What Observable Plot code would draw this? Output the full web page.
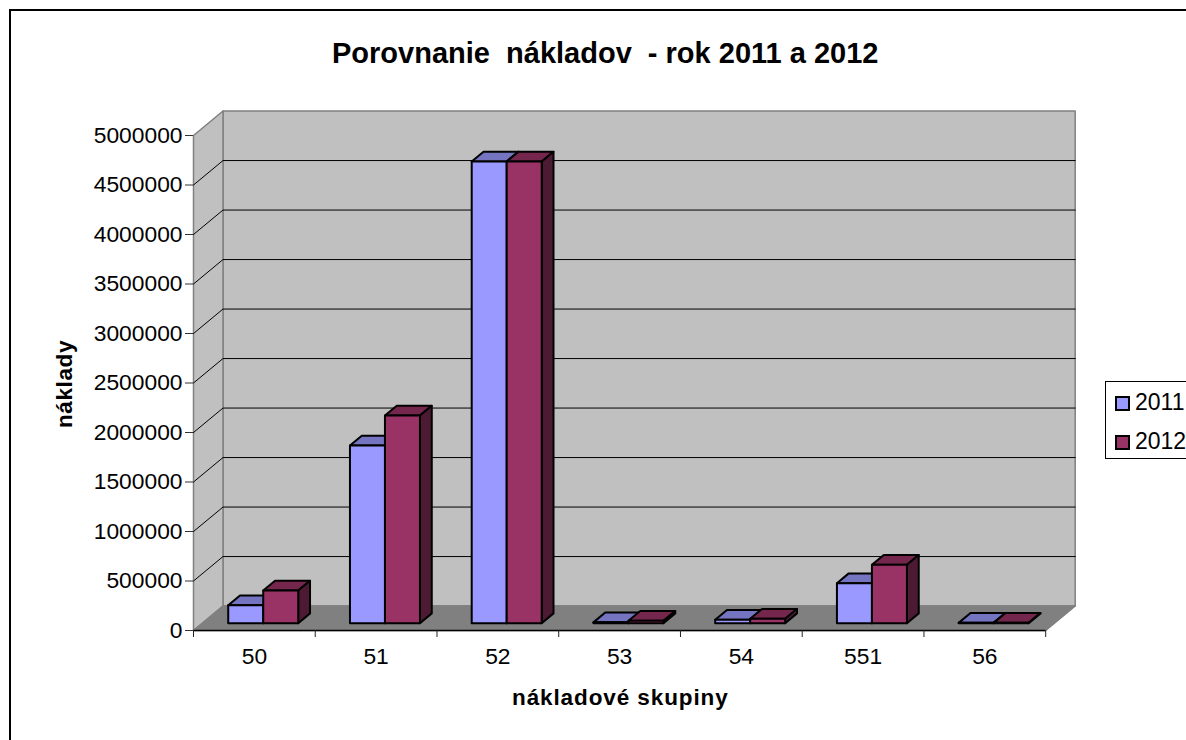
<!DOCTYPE html>
<html>
<head>
<meta charset="utf-8">
<script src="https://cdn.jsdelivr.net/npm/d3@7"></script>
<script src="https://cdn.jsdelivr.net/npm/@observablehq/plot@0.6"></script>
<style>
html,body{margin:0;padding:0;background:#fff;width:1186px;height:740px;overflow:hidden;font-family:"Liberation Sans",sans-serif;color:#000}
#chart{position:absolute;left:0;top:0}
#frame{position:absolute;left:9px;top:9px;width:1300px;height:900px;border:2px solid #000;pointer-events:none}
.t{position:absolute;white-space:pre;font-weight:bold;line-height:1}
#title{left:332px;top:39px;font-size:29px}
#xlabel{left:512px;top:687px;font-size:22.5px;letter-spacing:0.9px}
#ylabel{left:65px;top:384px;font-size:22.5px;letter-spacing:0.6px;transform:translate(-50%,-50%) rotate(-90deg)}
#legend{position:absolute;left:1105px;top:381px;width:120px;height:76px;border:1px solid #000;background:#fff}
.sw{position:absolute;left:9px;width:11px;height:11px;border:2px solid #000}
.lt{position:absolute;left:29px;font-size:23px;line-height:1}
</style>
</head>
<body>
<div id="chart"></div>
<div id="frame"></div>
<div class="t" id="title"></div>
<div class="t" id="xlabel"></div>
<div class="t" id="ylabel"></div>
<div id="legend"></div>
<script>
const chartTitle = "Porovnanie  nákladov  - rok 2011 a 2012";
const xTitle = "nákladové skupiny";
const yTitle = "náklady";
const categories = ["50","51","52","53","54","551","56"];
const seriesNames = ["2011","2012"];
const values2011 = [181000,1794000,4664000,8000,35000,404000,3000];
const values2012 = [330000,2097000,4664000,25000,45000,590000,3000];
const yTicks = [0,500000,1000000,1500000,2000000,2500000,3000000,3500000,4000000,4500000,5000000];
const frontColors = ["#9999FF","#993366"];
const topColors = ["#7474C1","#74264D"];
const sideColors = ["#4D4D80","#4D1A33"];
const wallColor = "#C0C0C0";
const floorColor = "#808080";

// Oblique depth of the plot box, expressed in data units of both scales.
const depthX = 0.2423, depthY = 247000;
const n = categories.length, yMax = 5000000;
const P = (x, y, d) => ({x: x + depthX * d, y: y + depthY * d});

function face(list, id, fill, pts) {
  pts.concat([pts[0]]).forEach(p => list.push({id, fill, x: p.x, y: p.y}));
}

const walls = [];
face(walls, "back", wallColor, [P(0,0,1),P(n,0,1),P(n,yMax,1),P(0,yMax,1)]);
face(walls, "left", wallColor, [P(0,0,0),P(0,0,1),P(0,yMax,1),P(0,yMax,0)]);
face(walls, "floor", floorColor, [P(0,0,0),P(n,0,0),P(n,0,1),P(0,0,1)]);

const grid = [];
yTicks.slice(1, -1).forEach(v => {
  [P(0,v,0),P(0,v,1),P(n,v,1)].forEach(p => grid.push({id: v, x: p.x, y: p.y}));
});

const bars = [];
const barW = 0.2875, d0 = 0.3, d1 = 0.7;
[values2011, values2012].forEach((vals, s) => {
  vals.forEach((v, i) => {
    const a = i + 0.5 - barW + s * barW, b = a + barW, id = s + "-" + i;
    bars.push({s, i, id, a, b, v});
  });
});
const barFaces = [];
categories.forEach((c, i) => {
  bars.filter(b => b.i === i).forEach(({s, a, b, v, id}) => {
    face(barFaces, id + "t", topColors[s], [P(a,v,d0),P(b,v,d0),P(b,v,d1),P(a,v,d1)]);
    face(barFaces, id + "s", sideColors[s], [P(b,0,d0),P(b,0,d1),P(b,v,d1),P(b,v,d0)]);
    face(barFaces, id + "f", frontColors[s], [P(a,0,d0),P(b,0,d0),P(b,v,d0),P(a,v,d0)]);
  });
});

const poly = (data, stroke, strokeWidth) => Plot.line(data, {
  x: "x", y: "y", z: "id",
  fill: {value: d => d.fill, scale: null},
  stroke, strokeWidth, curve: "linear"
});

const plot = Plot.plot({
  width: 1186, height: 740,
  marginLeft: 193, marginRight: 140.8, marginTop: 135, marginBottom: 110,
  style: {fontFamily: '"Liberation Sans", sans-serif', fontSize: "22.8px", color: "#000", background: "transparent"},
  x: {domain: [0, n], axis: null},
  y: {domain: [0, yMax], axis: null},
  marks: [
    poly(walls, "#808080", 1.5),
    Plot.line(grid, {x: "x", y: "y", z: "id", stroke: "#000", strokeWidth: 1, curve: "linear"}),
    poly(walls.filter(d => d.id === "floor"), "#808080", 0.5),
    Plot.ruleY([0], {stroke: "#000", strokeWidth: 1.5}),
    poly(barFaces, "#000", 2),
    Plot.axisY({ticks: yTicks, tickFormat: "d", tickSize: 8, tickPadding: 3, label: null, fontSize: 22.8, stroke: "#333"}),
    Plot.axisX({ticks: d3.range(n + 1), tickFormat: () => "", tickSize: 7, label: null, stroke: "#222"}),
    Plot.axisX({ticks: categories.map((c, i) => i + 0.5), tickFormat: d => categories[d - 0.5], tickSize: 0, tickPadding: 17, label: null, fontSize: 22.8})
  ]
});
document.getElementById("chart").appendChild(plot);

document.getElementById("title").textContent = chartTitle;
document.getElementById("xlabel").textContent = xTitle;
document.getElementById("ylabel").textContent = yTitle;

const legend = document.getElementById("legend");
seriesNames.forEach((name, i) => {
  const sw = document.createElement("div");
  sw.className = "sw"; sw.style.top = (14 + i * 38.5) + "px"; sw.style.background = frontColors[i];
  const t = document.createElement("div");
  t.className = "lt"; t.style.top = (9 + i * 38.5) + "px"; t.textContent = name;
  legend.append(sw, t);
});
</script>
</body>
</html>
